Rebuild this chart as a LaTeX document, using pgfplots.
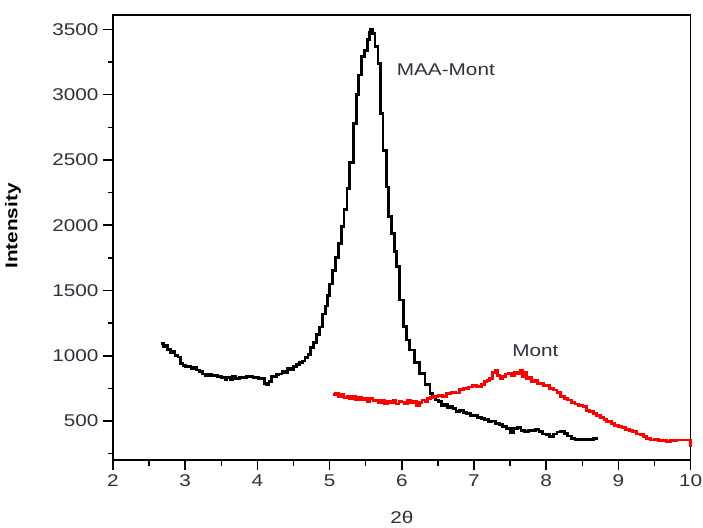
\documentclass[border=0pt]{standalone}
\usepackage{pgfplots}
\pgfplotsset{compat=1.18}
\usepackage{fontspec}
\setmainfont{Liberation Sans}[FakeStretch=1.22]
\definecolor{txt}{rgb}{0.2,0.18,0.24}
\begin{document}
\begin{tikzpicture}
\begin{axis}[
  scale only axis,
  width=577.6pt, height=445pt,
  xmin=2, xmax=10, ymin=201, ymax=3610,
  xtick={2,3,...,10}, ytick={500,1000,...,3500},
  minor xtick={2.5,3.5,...,9.5}, minor ytick={250,750,...,3250},
  xtick pos=bottom, ytick pos=left,
  tick align=outside,
  major tick length=10pt, minor tick length=5.5pt,
  axis line style={line width=1.6pt},
  major tick style={line width=1.6pt, black},
  minor tick style={line width=1.5pt, black},
  /pgf/number format/assume math mode=true,
  /pgf/number format/1000 sep={},
  tick label style={font=\fontsize{17}{17}\selectfont, text=txt},
  yticklabel style={xshift=-1pt},
  xticklabel style={yshift=-1pt},
  clip=false,
]
\coordinate (LL) at (rel axis cs:0,0);
\coordinate (UR) at (rel axis cs:1,1);
\addplot[black, line width=2.8pt, const plot, line join=miter] coordinates {
(2.67,1095) (2.70,1070) (2.72,1080) (2.75,1045) (2.78,1050) (2.80,1025) (2.83,1030) (2.86,1000)
(2.90,990) (2.93,940) (2.97,925) (3.00,915) (3.04,920) (3.08,905) (3.12,910) (3.16,890)
(3.20,880) (3.24,860) (3.28,850) (3.32,855) (3.36,845) (3.40,848) (3.45,842) (3.50,835)
(3.55,820) (3.58,830) (3.62,815) (3.66,840) (3.70,825) (3.75,830) (3.80,835) (3.85,838)
(3.90,845) (3.94,832) (3.98,835) (4.02,825) (4.06,828) (4.10,790) (4.13,775) (4.16,800)
(4.19,845) (4.22,840) (4.26,855) (4.30,860) (4.34,880) (4.38,870) (4.42,900) (4.46,895)
(4.50,920) (4.54,935) (4.58,950) (4.62,960) (4.66,985) (4.70,1010) (4.74,1060) (4.78,1100)
(4.82,1160) (4.86,1220) (4.90,1320) (4.94,1380) (4.97,1460) (5.00,1550) (5.04,1650) (5.08,1750)
(5.12,1860) (5.16,1990) (5.20,2120) (5.24,2280) (5.28,2480) (5.33,2780) (5.37,3000) (5.40,3150)
(5.44,3290) (5.48,3340) (5.52,3420) (5.55,3480) (5.57,3500) (5.59,3470) (5.63,3366) (5.67,3238)
(5.70,2856) (5.74,2575) (5.79,2293) (5.82,2064) (5.86,1937) (5.90,1800) (5.93,1682) (5.97,1426)
(6.02,1222) (6.06,1120) (6.11,1044) (6.18,950) (6.25,865) (6.32,780) (6.39,712) (6.43,680)
(6.47,660) (6.51,650) (6.55,620) (6.59,625) (6.63,600) (6.67,610) (6.71,595) (6.75,575)
(6.80,580) (6.85,565) (6.90,555) (6.95,545) (7.00,540) (7.05,525) (7.10,520) (7.15,510)
(7.20,495) (7.25,500) (7.30,480) (7.35,470) (7.40,460) (7.45,440) (7.50,410) (7.55,440)
(7.60,450) (7.65,430) (7.70,420) (7.75,425) (7.80,430) (7.85,435) (7.90,420) (7.95,400)
(8.00,395) (8.05,380) (8.10,400) (8.15,415) (8.20,420) (8.25,405) (8.30,385) (8.35,365)
(8.40,360) (8.50,360) (8.60,360) (8.65,370) (8.70,355)
};
\addplot[red, line width=2.8pt, const plot, line join=miter] coordinates {
(5.05,700) (5.08,710) (5.12,690) (5.16,700) (5.20,680) (5.24,686) (5.28,670) (5.32,690)
(5.36,665) (5.40,680) (5.44,660) (5.48,675) (5.52,650) (5.56,674) (5.60,655) (5.64,660)
(5.68,640) (5.72,655) (5.76,635) (5.80,650) (5.84,640) (5.88,655) (5.92,630) (5.96,650)
(6.00,645) (6.04,635) (6.08,660) (6.12,640) (6.16,650) (6.20,620) (6.24,640) (6.28,660)
(6.32,645) (6.36,670) (6.40,680) (6.44,686) (6.50,695) (6.56,690) (6.62,710) (6.68,720)
(6.74,715) (6.80,740) (6.86,750) (6.92,760) (6.98,770) (7.04,765) (7.10,780) (7.14,800)
(7.18,810) (7.22,827) (7.26,870) (7.29,890) (7.32,850) (7.36,827) (7.40,840) (7.44,860)
(7.48,865) (7.52,850) (7.56,875) (7.60,860) (7.64,890) (7.67,840) (7.70,870) (7.73,827)
(7.76,835) (7.80,800) (7.84,810) (7.88,785) (7.92,790) (7.96,770) (8.00,775) (8.05,750)
(8.10,737) (8.15,720) (8.20,690) (8.25,670) (8.30,660) (8.35,640) (8.40,630) (8.45,620)
(8.51,609) (8.56,580) (8.60,570) (8.65,555) (8.70,540) (8.75,525) (8.80,510) (8.84,495)
(8.90,480) (8.95,465) (9.00,456) (9.05,450) (9.10,435) (9.15,425) (9.20,418) (9.25,400)
(9.30,395) (9.35,380) (9.39,367) (9.45,355) (9.50,358) (9.55,350) (9.60,352) (9.67,342)
(9.72,350) (9.80,355) (9.90,355) (9.97,355) (10.0,300)
};
\pgfplotsinvokeforeach{2,3,4,5,6,7,8,9,10}{\draw[line width=1.6pt, black] (axis cs:#1,201) -- ++(0pt,-10pt);}
\pgfplotsinvokeforeach{500,1000,1500,2000,2500,3000,3500}{\draw[line width=1.6pt, black] (axis cs:2,#1) -- ++(-10pt,0pt);}
\node[text=txt, font=\fontsize{17}{17}\selectfont] at (axis cs:6.61,3188) {MAA-Mont};
\node[text=txt, font=\fontsize{17}{17}\selectfont] at (axis cs:7.85,1038) {Mont};
\path (rel axis cs:0.5,0) ++(0pt,-51pt) node[text=txt, font=\fontsize{17}{17}\selectfont, anchor=north, inner sep=0pt] {2θ};
\path (rel axis cs:0,0.526) ++(-100pt,0pt) node[text=black, font=\bfseries\fontsize{17}{17}\selectfont, rotate=90, inner sep=0pt] {Intensity};
\end{axis}
\pgfresetboundingbox
\path ([shift={(-113pt,-67pt)}]LL) rectangle ([shift={(12.4pt,15pt)}]UR);
\end{tikzpicture}
\end{document}
